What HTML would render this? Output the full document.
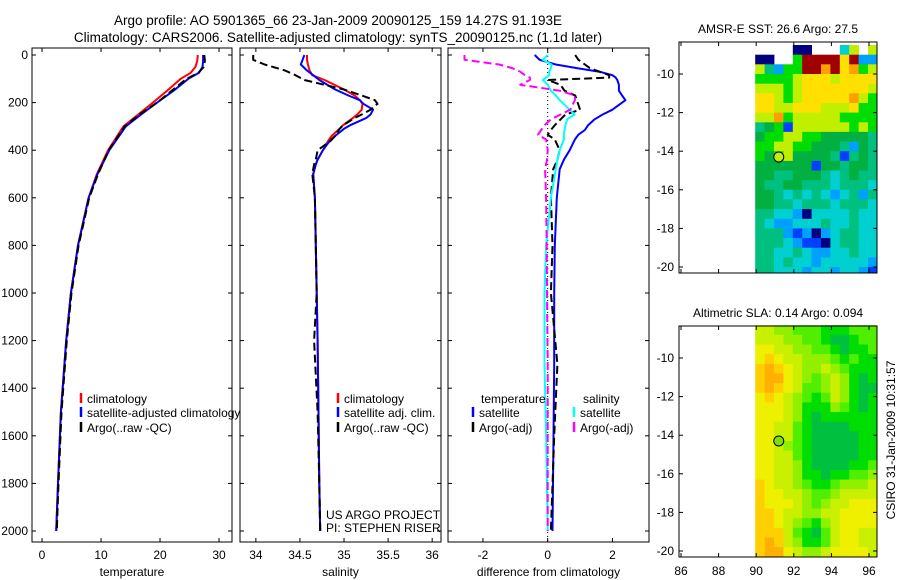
<!DOCTYPE html>
<html><head><meta charset="utf-8"><style>
html,body{margin:0;padding:0;background:#fff;}
svg{display:block;font-family:"Liberation Sans",sans-serif;}
</style></head><body>
<svg id="fig" width="900" height="580" viewBox="0 0 900 580">
<text x="338" y="25" font-size="13.5" text-anchor="middle">Argo profile: AO 5901365_66 23-Jan-2009 20090125_159 14.27S 91.193E</text>
<text x="338" y="42" font-size="13.5" text-anchor="middle">Climatology: CARS2006. Satellite-adjusted climatology: synTS_20090125.nc (1.1d later)</text>
<g id="g"></g>
</svg>
<script>
// ---------- DATA ----------
const tDepth=[0,25,50,75,100,150,200,250,300,400,500,600,800,1000,1200,1500,1800,2000];
const tClim=[26.4,26.3,26.0,25.2,23.5,21.2,18.8,16.3,13.8,11.2,9.3,7.9,6.1,4.9,4.1,3.2,2.7,2.4];
const tSat=[27.3,27.3,27.2,26.6,24.8,22.3,19.5,16.8,14.2,11.4,9.4,7.9,6.1,4.9,4.1,3.2,2.7,2.4];
const tArgo=[27.5,27.6,27.4,26.5,24.5,22.0,19.5,16.5,14.0,11.3,9.5,8.0,6.2,5.0,4.2,3.3,2.8,2.5];

const sDepth=[0,20,40,65,85,105,145,170,190,205,230,250,265,295,310,340,360,400,440,460,500,600,800,1000,1200,1500,1800,2000];
const sClim=[34.58,34.58,34.59,34.61,34.64,34.78,35.0,35.12,35.18,35.21,35.2,35.15,35.1,34.99,34.95,34.86,34.82,34.76,34.7,34.68,34.65,34.67,34.68,34.69,34.7,34.71,34.72,34.73];
const sSat=[34.55,34.53,34.51,34.58,34.65,34.72,34.9,35.05,35.18,35.22,35.33,35.3,35.25,35.07,35.0,34.9,34.84,34.76,34.7,34.68,34.65,34.67,34.68,34.69,34.7,34.71,34.72,34.73];
const sArgo=[33.97,33.97,34.1,34.33,34.45,34.55,35.0,35.2,35.35,35.38,35.3,35.2,35.12,34.99,34.95,34.9,34.85,34.7,34.68,34.66,34.64,34.67,34.68,34.69,34.66,34.7,34.72,34.73];

const dDepth=[0,20,40,55,70,85,95,105,125,150,170,190,230,250,270,295,315,335,355,400,440,480,600,800,1000,1300,1600,2000];
const dTsat=[-0.4,-0.25,0.25,0.9,1.6,2.0,2.1,2.15,2.2,2.2,2.3,2.4,2.0,1.7,1.45,1.25,1.15,0.95,0.84,0.68,0.5,0.37,0.28,0.22,0.2,0.2,0.18,0.15];
const dTargo=[0.85,0.95,1.15,1.3,1.6,1.9,1.9,0.0,0.4,0.52,0.85,0.9,1.0,0.55,0.4,0.22,0.1,0.0,0.22,0.37,0.3,0.17,0.1,0.15,0.1,0.3,0.2,0.1];
const dSsat=[0.0,-0.15,0.12,0.1,0.05,0.05,-0.05,-0.15,0.0,0.1,0.25,0.37,0.68,0.83,0.6,0.55,0.52,0.5,0.5,0.37,0.3,0.25,0.1,-0.05,-0.1,-0.1,-0.05,0.0];
const dSargo=[-2.57,-2.57,-1.5,-1.1,-0.85,-0.7,-0.55,-0.55,-0.85,0.37,0.84,0.84,0.7,0.4,0.1,-0.1,-0.2,-0.3,-0.05,0.0,-0.02,-0.08,-0.05,-0.03,-0.02,0.0,0.0,0.0];

const depthTicks=[0,200,400,600,800,1000,1200,1400,1600,1800,2000];
const tTicks=[0,10,20,30];
const sTicks=[34,34.5,35,35.5,36];
const dTicks=[-2,0,2];
const lonTicks=[86,88,90,92,94,96];
const latTicks=[-10,-12,-14,-16,-18,-20];

// SST grid: 0.5 deg cells, lon 90..96.5, lat rows from -8.5 southwards; -1 = no data
const sstRows=[
[-1,-1,-1,-1,0,0,-1,-1,-1,3,7,-1,7],
[0,0,-1,-1,6,10,10,10,10,8,10,2,2],
[7,4,2,6,6,10,10,9,10,8,9,6,7],
[6,6,6,6,7,8,8,8,7,8,8,8,8],
[7,7,7,6,7,8,8,8,8,8,8,8,7],
[8,8,7,6,7,8,8,8,8,8,9,7,6],
[8,8,7,7,8,8,8,7,7,7,8,6,6],
[7,7,9,6,7,7,7,7,7,6,6,6,6],
[4,5,6,1,7,7,7,7,7,7,6,7,6],
[5,6,6,7,7,6,6,5,5,5,5,5,4],
[6,6,7,7,6,6,5,5,5,4,2,5,4],
[6,5,6,7,5,5,5,5,4,1,4,5,4],
[5,5,5,5,5,5,1,5,5,4,5,5,4],
[5,5,4,4,5,5,5,4,3,4,5,4,4],
[5,4,4,5,5,4,4,4,3,4,4,4,3],
[5,5,4,3,4,3,4,3,2,3,4,2,4],
[5,5,4,4,3,4,4,4,3,4,4,4,3],
[4,4,3,3,2,0,3,3,3,3,4,3,3],
[4,3,2,2,3,3,3,4,3,3,4,3,3],
[4,4,4,2,1,2,0,2,3,4,4,3,3],
[4,4,4,3,2,1,1,0,3,4,4,3,3],
[4,4,3,3,4,3,2,2,3,3,4,3,3],
[4,4,3,4,3,3,2,3,3,3,3,3,2],
[4,4,3,3,3,2,3,3,2,3,3,2,1]];
// SLA grid: 0.5 deg cells, lon 90..96.5, rows from -8.3 southwards
const slaRows=[
[4,4,3,3,2,2,2,1,1,1,2,2,2],
[4,4,4,3,3,2,2,1,0,0,1,2,2],
[5,5,4,4,3,3,2,2,1,0,1,1,2],
[5,6,5,4,4,3,3,3,2,1,2,1,1],
[6,7,6,5,4,3,3,4,3,2,1,1,1],
[6,7,7,5,4,3,2,3,4,3,1,0,1],
[6,7,6,5,4,2,2,3,4,3,1,0,0],
[5,6,5,4,3,2,1,2,4,3,1,0,1],
[5,5,5,4,3,1,1,1,3,2,1,0,1],
[5,5,5,4,3,1,0,1,1,1,1,1,1],
[5,5,4,4,2,1,0,0,0,0,1,1,1],
[5,5,4,4,2,1,0,0,0,0,0,1,1],
[5,5,4,3,2,1,0,0,0,0,0,1,1],
[5,5,4,4,2,1,0,0,0,0,0,1,1],
[5,5,4,4,3,1,0,0,0,0,1,1,2],
[5,5,4,4,3,1,1,0,1,1,2,2,3],
[6,5,4,4,3,2,1,1,2,3,3,3,4],
[6,5,5,4,4,3,2,2,3,4,4,4,4],
[6,5,5,5,4,3,2,3,4,4,5,5,5],
[6,6,5,4,4,3,3,4,4,5,5,5,5],
[6,6,5,4,3,2,1,3,4,5,5,5,5],
[6,6,6,4,2,1,0,2,4,5,5,4,4],
[6,7,6,4,3,1,1,2,4,5,5,4,4],
[6,7,7,5,4,3,3,4,5,5,5,5,4]];
const argoLon=91.2, argoLat=-14.3;

// ---------- DRAW ----------
const NS="http://www.w3.org/2000/svg";
const G=document.getElementById('g');
function mk(tag,attrs,parent){const e=document.createElementNS(NS,tag);for(const k in attrs)e.setAttribute(k,attrs[k]);(parent||G).appendChild(e);return e;}
function txt(x,y,s,size,anchor,parent){const t=mk('text',{x:x,y:y,'font-size':size,'text-anchor':anchor||'middle'},parent);t.textContent=s;return t;}

const yTop=48,yBot=542;
const yD=d=>55+d*0.238;
const panels=[
 {x0:32,x1:232,dom:[-1.7,32.2],ticks:tTicks,label:'temperature',name:'temperature-panel'},
 {x0:240,x1:441,dom:[33.82,36.1],ticks:sTicks,label:'salinity',name:'salinity-panel'},
 {x0:448,x1:649,dom:[-3.08,3.13],ticks:dTicks,label:'difference from climatology',name:'difference-panel'}];
panels.forEach(p=>{p.x=v=>p.x0+(v-p.dom[0])/(p.dom[1]-p.dom[0])*(p.x1-p.x0);});

panels.forEach((p,i)=>{
 const g=mk('g',{});
 
 
 mk('rect',{x:p.x0,y:yTop,width:p.x1-p.x0,height:yBot-yTop,fill:'#fff'},g);
 p.ticks.forEach(t=>{const x=p.x(t);
  mk('line',{x1:x,x2:x,y1:yBot,y2:yBot-4,stroke:'#000'},g);
  mk('line',{x1:x,x2:x,y1:yTop,y2:yTop+4,stroke:'#000'},g);
  const l=txt(x,559,String(t),12,'middle',g);
  
  });
 depthTicks.forEach(d=>{const y=yD(d);
  mk('line',{x1:p.x0,x2:p.x0+4,y1:y,y2:y,stroke:'#000'},g);
  mk('line',{x1:p.x1,x2:p.x1-4,y1:y,y2:y,stroke:'#000'},g);
  if(i===0){const l=txt(28,y+4,String(d),12,'end',g);
   
   }});
 const xl=txt((p.x0+p.x1)/2,576,p.label,12,'middle',g);
 
 
 p.g=g;
});

function series(p,depth,vals,color,dash,name){
 const pts=depth.map((d,k)=>p.x(vals[k]).toFixed(1)+','+yD(d).toFixed(1)).join(' ');
 const e=mk('polyline',{points:pts,fill:'none',stroke:color,'stroke-width':2,'stroke-dasharray':dash||'none','stroke-linejoin':'round'},p.g);
 
 
}
const P1=panels[0],P2=panels[1],P3=panels[2];
series(P1,tDepth,tClim,'#f00',null,'temperature-climatology-line');
series(P1,tDepth,tSat,'#00f',null,'temperature-satellite-line');
series(P1,tDepth,tArgo,'#000','8,4','temperature-argo-line');
series(P2,sDepth,sClim,'#f00',null,'salinity-climatology-line');
series(P2,sDepth,sSat,'#00f',null,'salinity-satellite-line');
series(P2,sDepth,sArgo,'#000','8,4','salinity-argo-line');
const z=mk('line',{x1:P3.x(0),x2:P3.x(0),y1:yTop,y2:yBot,stroke:'#000','stroke-dasharray':'1,3'},P3.g);


series(P3,dDepth,dTsat,'#00f',null,'temp-diff-satellite-line');
series(P3,dDepth,dTargo,'#000','8,4','temp-diff-argo-line');
series(P3,dDepth,dSsat,'#0ff',null,'sal-diff-satellite-line');
series(P3,dDepth,dSargo,'#f0f','8,4','sal-diff-argo-line');

// legends (drawn after lines)
function legend(items,parent,nm){
 const g=mk('g',{},parent);
 
 
 items.forEach(it=>{
  if(it.c) mk('line',{x1:it.x,x2:it.x,y1:it.y-10,y2:it.y,stroke:it.c,'stroke-width':2.5},g);
  txt(it.x+(it.c?6:0),it.y,it.t,12,'start',g);
 });
 return g;
}
legend([{x:81,y:403,c:'#f00',t:'climatology'},{x:81,y:417,c:'#00f',t:'satellite-adjusted climatology'},{x:81,y:432,c:'#000',t:'Argo(..raw -QC)'}],P1.g,'temperature-legend');
// re-cover overflow by panel 2 background order: move panel 2 & 3 after panel 1
G.appendChild(P2.g);G.appendChild(P3.g);
legend([{x:338,y:403,c:'#f00',t:'climatology'},{x:338,y:417,c:'#00f',t:'satellite adj. clim.'},{x:338,y:432,c:'#000',t:'Argo(..raw -QC)'}],P2.g,'salinity-legend');
legend([{x:481,y:403,t:'temperature'},{x:473,y:417,c:'#00f',t:'satellite'},{x:473,y:432,c:'#000',t:'Argo(-adj)'},
 {x:583,y:403,t:'salinity'},{x:574,y:417,c:'#0ff',t:'satellite'},{x:574,y:432,c:'#f0f',t:'Argo(-adj)'}],P3.g,'difference-legend');
const pr=mk('g',{},P2.g);


txt(326,519,'US ARGO PROJECT',12,'start',pr);
txt(326,532,'PI: STEPHEN RISER',12,'start',pr);
// frames
panels.forEach(p=>mk('rect',{x:p.x0,y:yTop,width:p.x1-p.x0,height:yBot-yTop,fill:'none',stroke:'#000'},p.g));

// ---------- MAPS ----------
const sstCols=['#000080','#0040ff','#00a0ff','#00d0d0','#00c080','#00b040','#00dd00','#c0f000','#ffe000','#ffa000','#a00000'];
const slaCols=['#00c040','#00dd00','#50ee00','#90f000','#c8f000','#eef000','#ffd000','#ffb000'];
const mx0=679,mx1=877;
const lonX=l=>681+(l-86)*18.8;
function drawMap(cfg){
 const g=mk('g',{});
 
 
 const latY=cfg.latY;
 cfg.rows.forEach((row,r)=>{
  row.forEach((v,c)=>{ if(v<0) return;
   const lo=90+c*0.5, la=cfg.lat0-r*0.5;
   const x=lonX(lo)-1, y=latY(la);
   const x2=Math.min(lonX(lo+0.5)-1,mx1), y2=Math.min(latY(la-0.5),cfg.yb);
   const e=mk('rect',{x:x.toFixed(1),y:y.toFixed(1),width:(x2-x+0.4).toFixed(1),height:(y2-y+0.4).toFixed(1),fill:cfg.cols[v]},g);
   
   
  });
 });
 const c=mk('circle',{cx:lonX(argoLon),cy:latY(argoLat),r:5,fill:cfg.dot,stroke:'#000'},g);
 
 
 mk('rect',{x:mx0,y:cfg.yt,width:mx1-mx0,height:cfg.yb-cfg.yt,fill:'none',stroke:'#000'},g);
 lonTicks.forEach(l=>{const x=lonX(l);
  mk('line',{x1:x,x2:x,y1:cfg.yb,y2:cfg.yb-4,stroke:'#000'},g);
  mk('line',{x1:x,x2:x,y1:cfg.yt,y2:cfg.yt+4,stroke:'#000'},g);
  if(cfg.lonLabels){const t=txt(x,575,String(l),12,'middle',g);
   
   }});
 latTicks.forEach(l=>{const y=latY(l);
  mk('line',{x1:mx0,x2:mx0+4,y1:y,y2:y,stroke:'#000'},g);
  mk('line',{x1:mx1,x2:mx1-4,y1:y,y2:y,stroke:'#000'},g);
  const t=txt(674,y+4,String(l),12,'end',g);
  
  });
 const t=txt(778,cfg.yt-9,cfg.title,12,'middle',g);
 
 
}
drawMap({name:'sst-map',rows:sstRows,cols:sstCols,lat0:-8.5,yt:42,yb:273,latY:la=>74+(-10-la)*19.3,dot:'#c0f000',title:'AMSR-E SST: 26.6 Argo: 27.5',lonLabels:false});
drawMap({name:'sla-map',rows:slaRows,cols:slaCols,lat0:-8.3,yt:326,yb:557,latY:la=>358+(-10-la)*19.3,dot:'#80e000',title:'Altimetric SLA: 0.14 Argo: 0.094',lonLabels:true});
const cs=txt(0,0,'CSIRO 31-Jan-2009 10:31:57',12,'middle');
cs.setAttribute('transform','translate(895,440) rotate(-90)');


</script>
</body></html>
